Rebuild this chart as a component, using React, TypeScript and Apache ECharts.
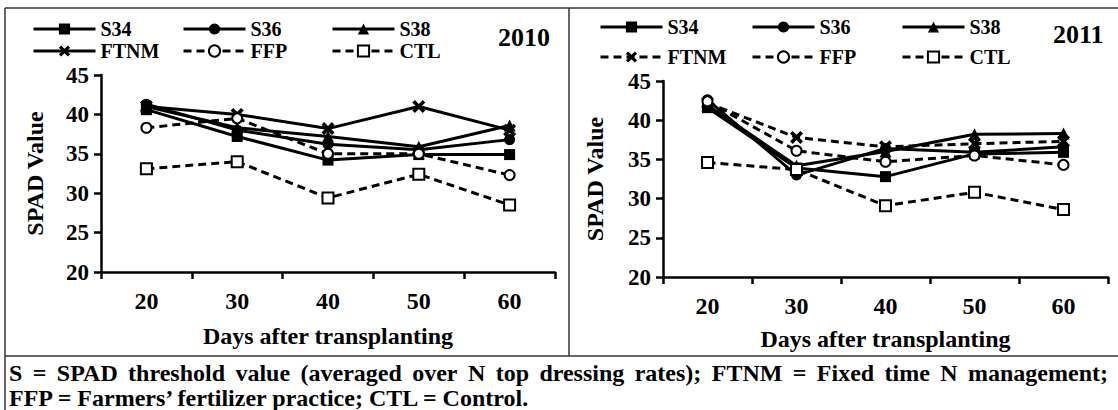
import React, { useEffect, useRef } from 'react';
import * as echarts from 'echarts';

// ---------- data ----------
const days = ['20', '30', '40', '50', '60'];
const yMin = 20;
const yMax = 45;
const yStep = 5;

const seriesNames = ['S34', 'S36', 'S38', 'FTNM', 'FFP', 'CTL'];

// 2010
const s34_2010 = [40.6, 37.2, 34.2, 34.9, 34.9];
const s36_2010 = [41.3, 38.0, 36.2, 35.5, 36.8];
const s38_2010 = [41.0, 38.3, 37.2, 35.9, 38.6];
const ftnm_2010 = [41.0, 40.0, 38.2, 41.0, 38.0];
const ffp_2010 = [38.3, 39.5, 35.0, 35.0, 32.3];
const ctl_2010 = [33.1, 34.0, 29.4, 32.4, 28.5];

// 2011
const s34_2011 = [41.6, 33.9, 32.8, 35.7, 35.9];
const s36_2011 = [42.6, 33.0, 36.4, 35.9, 36.6];
const s38_2011 = [41.9, 34.2, 36.0, 38.2, 38.3];
const ftnm_2011 = [42.2, 37.8, 36.6, 37.0, 37.3];
const ffp_2011 = [42.4, 36.1, 34.7, 35.5, 34.3];
const ctl_2011 = [34.6, 33.7, 29.1, 30.8, 28.6];

const yearLabels = ['2010', '2011'];
const xTitle = 'Days after transplanting';
const yTitle = 'SPAD Value';
const footLine1 = 'S = SPAD threshold value (averaged over N top dressing rates); FTNM = Fixed time N management;';
const footLine2 = 'FFP = Farmers\u2019 fertilizer practice; CTL = Control.';

// ---------- style ----------
const FONT = '"Liberation Serif", "DejaVu Serif", serif';
const X_PATH = 'path://M0,2L2,0L5,3L8,0L10,2L7,5L10,8L8,10L5,7L2,10L0,8L3,5Z';
const DASH = [8, 5];

type Sty = { symbol: string; size: number; fill: string; border: number; dashed: boolean };
const styles2010: Record<string, Sty> = {
  S34: { symbol: 'rect', size: 11, fill: '#000', border: 0, dashed: false },
  S36: { symbol: 'circle', size: 11, fill: '#000', border: 0, dashed: false },
  S38: { symbol: 'triangle', size: 12, fill: '#000', border: 0, dashed: false },
  FTNM: { symbol: X_PATH, size: 13, fill: '#000', border: 0, dashed: false },
  FFP: { symbol: 'circle', size: 10, fill: '#fff', border: 2, dashed: true },
  CTL: { symbol: 'rect', size: 11, fill: '#fff', border: 2, dashed: true },
};
const styles2011: Record<string, Sty> = {
  ...styles2010,
  FTNM: { symbol: X_PATH, size: 13, fill: '#000', border: 0, dashed: true },
};

const SUFFIX = ' (2011)';

function makeSeries(name: string, data: number[], idx: number, sty: Sty) {
  return {
    type: 'line',
    name: idx === 0 ? name : name + SUFFIX,
    xAxisIndex: idx,
    yAxisIndex: idx,
    data,
    color: '#000',
    symbol: sty.symbol,
    symbolSize: sty.size,
    lineStyle: { color: '#000', width: 3, type: sty.dashed ? DASH : 'solid' },
    itemStyle: { color: sty.fill, borderColor: '#000', borderWidth: sty.border },
    z: sty.fill === '#fff' ? 3 : 2,
  };
}

const data2010 = [s34_2010, s36_2010, s38_2010, ftnm_2010, ffp_2010, ctl_2010];
const data2011 = [s34_2011, s36_2011, s38_2011, ftnm_2011, ffp_2011, ctl_2011];

function measure(text: string, size: number) {
  const c = document.createElement('canvas').getContext('2d');
  if (!c) return text.length * size * 0.45;
  c.font = `bold ${size}px ${FONT}`;
  return c.measureText(text).width;
}

export default function App() {
  const ref = useRef<HTMLDivElement>(null);
  useEffect(() => {
    if (!ref.current) return;
    const chart = echarts.init(ref.current, undefined, { renderer: 'svg' });

    const grids = [
      { left: 101, top: 75, width: 454, height: 197 },
      { left: 663, top: 81, width: 445, height: 196 },
    ];

    const axisLine = { show: true, lineStyle: { color: '#000', width: 2.5 } };
    const xAxes = grids.map((g, i) => ({
      type: 'category',
      gridIndex: i,
      data: days,
      boundaryGap: true,
      axisLine,
      axisTick: { show: true, length: 7, lineStyle: { color: '#000', width: 2.5 } },
      axisLabel: { color: '#000', fontFamily: FONT, fontWeight: 'bold', fontSize: 24, margin: 17 },
      name: xTitle,
      nameLocation: 'middle',
      nameGap: i === 0 ? 52 : 50,
      nameTextStyle: { color: '#000', fontFamily: FONT, fontWeight: 'bold', fontSize: 24 },
      splitLine: { show: false },
    }));
    const yAxes = grids.map((g, i) => ({
      type: 'value',
      gridIndex: i,
      min: yMin,
      max: yMax,
      interval: yStep,
      axisLine,
      axisTick: { show: true, length: 7, lineStyle: { color: '#000', width: 2.5 } },
      axisLabel: { color: '#000', fontFamily: FONT, fontWeight: 'bold', fontSize: 23, margin: 12 },
      splitLine: { show: false },
      name: yTitle,
      nameLocation: 'middle',
      nameRotate: 90,
      nameGap: i === 0 ? 54 : 56,
      nameTextStyle: { color: '#000', fontFamily: FONT, fontWeight: 'bold', fontSize: 24 },
    }));

    const series = [
      ...seriesNames.map((n, k) => makeSeries(n, data2010[k], 0, styles2010[n])),
      ...seriesNames.map((n, k) => makeSeries(n, data2011[k], 1, styles2011[n])),
    ];

    // legends: one per item to align columns like the original
    const legendCols = [[32, 182, 331], [599, 751, 901]];
    const legendRows = [[28, 50], [26, 56]];
    const legends: any[] = [];
    [0, 1].forEach((p) => {
      seriesNames.forEach((n, k) => {
        const col = k % 3;
        const row = Math.floor(k / 3);
        legends.push({
          data: [p === 0 ? n : n + SUFFIX],
          left: legendCols[p][col],
          top: legendRows[p][row] - 9,
          padding: 0,
          itemWidth: 62,
          itemHeight: 14,
          itemGap: 0,
          selectedMode: false,
          formatter: (name: string) => name.replace(SUFFIX, ''),
          lineStyle: { width: 3 },
          textStyle: { color: '#000', fontFamily: FONT, fontWeight: 'bold', fontSize: 20, lineHeight: 18 },
        });
      });
    });

    // footnote (justified first line)
    const footSize = 24;
    const words = footLine1.split(' ');
    const widths = words.map((w) => measure(w, footSize));
    const x0 = 9;
    const x1 = 1108;
    const sum = widths.reduce((a, b) => a + b, 0);
    const gap = (x1 - x0 - sum) / (words.length - 1);
    let cx = x0;
    const txt = (text: string, left: number, top: number, size: number) => ({
      type: 'text',
      left,
      top,
      style: { text, fill: '#000', fontFamily: FONT, fontWeight: 'bold', fontSize: size },
    });
    const footTexts: any[] = words.map((w, i) => {
      const el = txt(w, cx, 361, footSize);
      cx += widths[i] + gap;
      return el;
    });
    footTexts.push(txt(footLine2, x0, 386, footSize));

    const borderStyle = { stroke: '#333', lineWidth: 1.5 };
    const graphic = [
      { type: 'line', shape: { x1: 5, y1: 8, x2: 1118, y2: 8 }, style: borderStyle },
      { type: 'line', shape: { x1: 5, y1: 8, x2: 5, y2: 410 }, style: borderStyle },
      { type: 'line', shape: { x1: 569, y1: 8, x2: 569, y2: 356 }, style: borderStyle },
      { type: 'line', shape: { x1: 5, y1: 356, x2: 1118, y2: 356 }, style: borderStyle },
      txt(yearLabels[0], 498, 24, 26),
      txt(yearLabels[1], 1053, 21, 26),
      ...footTexts,
    ];

    chart.setOption({
      animation: false,
      backgroundColor: '#fff',
      grid: grids,
      xAxis: xAxes,
      yAxis: yAxes,
      legend: legends,
      series,
      graphic,
    });
    return () => chart.dispose();
  }, []);

  return (
    <div
      ref={ref}
      style={{ position: 'fixed', left: 0, top: 0, width: 1118, height: 410, background: '#fff' }}
    />
  );
}
